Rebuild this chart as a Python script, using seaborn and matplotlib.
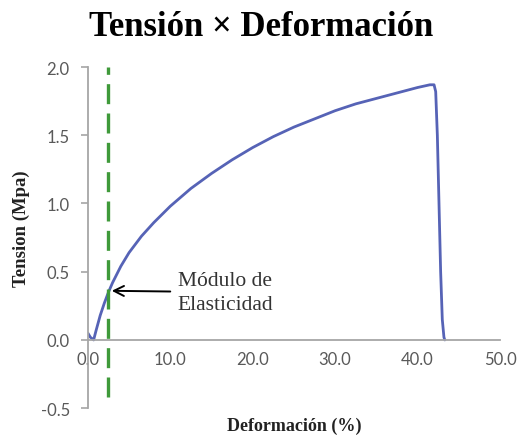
import matplotlib
matplotlib.use("Agg")
import matplotlib.pyplot as plt
import seaborn as sns
import pandas as pd

# Data
deformacion = [0.0, 0.3, 0.7, 1.0, 1.5, 2.0, 2.5, 3.0, 4.0, 5.0, 6.5, 8.0, 10.0,
               12.5, 15.0, 17.5, 20.0, 22.5, 25.0, 27.5, 30.0, 32.5, 35.0, 37.5,
               40.0, 41.5, 42.0, 42.2, 42.4, 42.6, 42.8, 43.0, 43.2, 43.3]
tension = [0.05, 0.02, 0.0, 0.07, 0.18, 0.27, 0.35, 0.42, 0.54, 0.64, 0.76, 0.86, 0.98,
           1.11, 1.22, 1.32, 1.41, 1.49, 1.56, 1.62, 1.68, 1.73, 1.77, 1.81,
           1.85, 1.87, 1.87, 1.82, 1.50, 1.00, 0.50, 0.15, 0.02, 0.0]
modulo_x = [2.5, 2.5]
modulo_y = [-0.42, 2.0]
annot_xy = (2.9, 0.36)
annot_text_xy = (10.9, 0.35)
x_ticks = [0, 10, 20, 30, 40, 50]
y_ticks = [-0.5, 0.0, 0.5, 1.0, 1.5, 2.0]

sns.set_theme(style="white")
plt.rcParams['font.family'] = ['Lato', 'DejaVu Sans']

fig = plt.figure(figsize=(5.23, 4.39), dpi=100)
ax = fig.add_axes([0.168, 0.068, 0.788, 0.777])

df = pd.DataFrame({"x": deformacion, "y": tension})
sns.lineplot(data=df, x="x", y="y", sort=False, estimator=None, ax=ax,
             color="#5663b6", linewidth=2.0)
ax.plot(modulo_x, modulo_y, color="#3f9a3a", linewidth=2.4, dashes=(6, 2.8))

ax.annotate("Módulo de\nElasticidad", xy=annot_xy, xytext=annot_text_xy,
            ha="left", va="center", fontsize=15.5, family="Liberation Serif",
            color="#333333", linespacing=1.35,
            arrowprops=dict(arrowstyle="->", color="black", lw=1.4,
                            mutation_scale=18, shrinkA=3, shrinkB=0))

ax.set_xlim(0, 50)
ax.set_ylim(-0.5, 2.0)
ax.set_xticks(x_ticks)
ax.set_xticklabels([f"{v:.1f}" for v in x_ticks])
ax.set_yticks(y_ticks)
ax.set_yticklabels([f"{v:.1f}" for v in y_ticks])

for s in ["top", "right"]:
    ax.spines[s].set_visible(False)
ax.spines["bottom"].set_position(("data", 0))
ax.spines["left"].set_position(("data", 0))
for s in ["bottom", "left"]:
    ax.spines[s].set_color("#a6a6a6")
    ax.spines[s].set_linewidth(1.3)

ax.tick_params(axis="y", which="both", left=True, length=5, width=1.2,
               color="#a6a6a6", labelsize=12, labelcolor="#595959", pad=8)
ax.tick_params(axis="x", which="both", bottom=False, length=0,
               labelsize=12, labelcolor="#595959", pad=8)

ax.set_xlabel("Deformación (%)", family="Liberation Serif", fontweight="bold",
              fontsize=13, color="#222222")
ax.xaxis.set_label_coords(0.5, -0.025)
ax.set_ylabel("Tension (Mpa)", family="Liberation Serif", fontweight="bold",
              fontsize=13.5, color="#222222")
ax.yaxis.set_label_coords(-0.14, 0.53)

fig.suptitle("Tensión × Deformación", family="Liberation Serif", fontweight="bold",
             fontsize=25, x=0.5, y=0.975, color="black")

fig.savefig("out.png", dpi=100)
